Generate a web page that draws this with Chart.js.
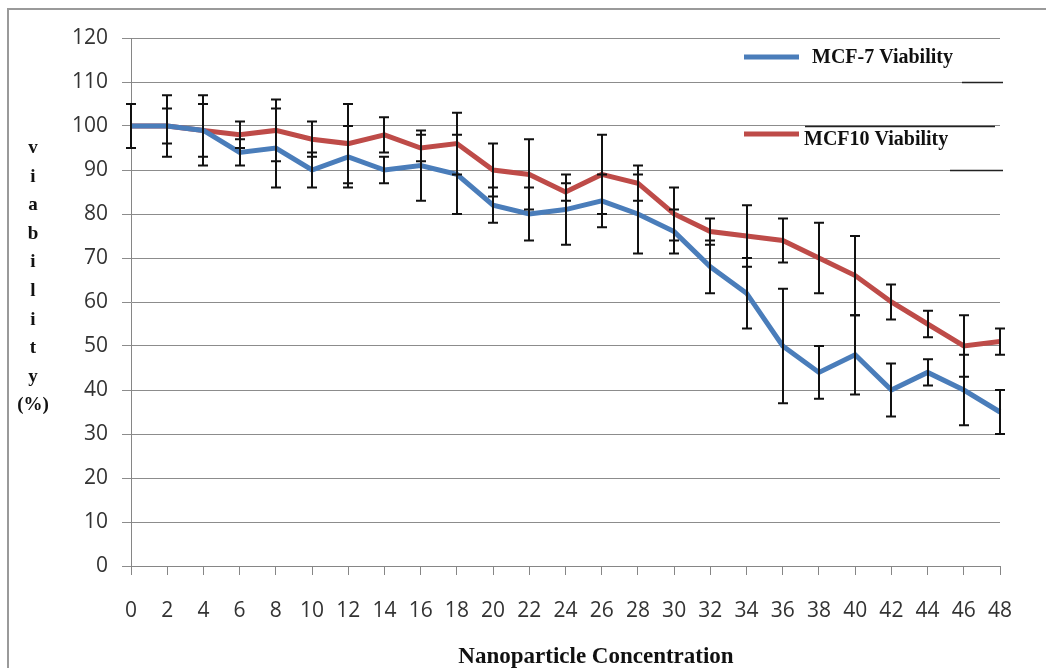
<!DOCTYPE html>
<html>
<head>
<meta charset="utf-8">
<script src="https://cdn.jsdelivr.net/npm/chart.js@4"></script>
<style>
  body { margin: 0; background: #fff; }
</style>
</head>
<body>
<canvas id="myChart" width="1046" height="668"></canvas>
<script>
// values
const concentrations = ['0', '2', '4', '6', '8', '10', '12', '14', '16', '18', '20', '22', '24',
    '26', '28', '30', '32', '34', '36', '38', '40', '42', '44', '46', '48'];
const mcf7Viability = [100, 100, 99, 94, 95, 90, 93, 90, 91, 89, 82, 80, 81,
    83, 80, 76, 68, 62, 50, 44, 48, 40, 44, 40, 35];
const mcf10Viability = [100, 100, 99, 98, 99, 97, 96, 98, 95, 96, 90, 89, 85,
    89, 87, 80, 76, 75, 74, 70, 66, 60, 55, 50, 51];
const mcf7Error = [5, 7, 8, 3, 9, 4, 7, 3, 8, 9, 4, 6, 8,
    6, 9, 5, 6, 8, 13, 6, 9, 6, 3, 8, 5];
const mcf10Error = [5, 4, 6, 3, 7, 4, 9, 4, 3, 7, 6, 8, 2,
    9, 4, 6, 3, 7, 5, 8, 9, 4, 3, 7, 3];
const yTitleLetters = ['v', 'i', 'a', 'b', 'i', 'l', 'i', 't', 'y', '(%)'];

const ctx = document.getElementById('myChart').getContext('2d');
const tickFont = { family: '"Open Sans", sans-serif', size: 21 };
const serifBold = (px) => 'bold ' + px + 'px "Liberation Serif", "Times New Roman", serif';

// white page with the grey frame on top and left
const framePlugin = {
    id: 'frame',
    beforeDraw(chart) {
        const c = chart.ctx;
        c.save();
        c.fillStyle = '#fff';
        c.fillRect(0, 0, chart.width, chart.height);
        c.strokeStyle = '#9a9a9a';
        c.lineWidth = 2;
        c.beginPath();
        c.moveTo(8, chart.height);
        c.lineTo(8, 9);
        c.lineTo(chart.width, 9);
        c.stroke();
        c.restore();
    }
};

// error bars, legend and axis titles drawn by hand
const extrasPlugin = {
    id: 'extras',
    afterDatasetsDraw(chart) {
        const c = chart.ctx;
        const xs = chart.scales.x, ys = chart.scales.y;
        c.save();
        c.strokeStyle = '#111';
        c.lineWidth = 2;
        const bars = [[mcf7Viability, mcf7Error], [mcf10Viability, mcf10Error]];
        bars.forEach(([vals, errs]) => {
            vals.forEach((v, i) => {
                const x = Math.round(xs.getPixelForValue(i));
                const top = ys.getPixelForValue(v + errs[i]);
                const bot = ys.getPixelForValue(v - errs[i]);
                c.beginPath();
                c.moveTo(x, top); c.lineTo(x, bot);
                c.moveTo(x - 5, top); c.lineTo(x + 5, top);
                c.moveTo(x - 5, bot); c.lineTo(x + 5, bot);
                c.stroke();
            });
        });

        // dark streaks over some gridlines near the legend
        c.strokeStyle = '#222';
        c.lineWidth = 1.5;
        [[110, 962, 1003], [100, 805, 995], [90, 950, 1003]].forEach(([v, a, b]) => {
            const y = Math.round(ys.getPixelForValue(v)) + 0.5;
            c.beginPath(); c.moveTo(a, y); c.lineTo(b, y); c.stroke();
        });

        // legend
        c.lineWidth = 5;
        c.strokeStyle = chart.data.datasets[0].borderColor;
        c.beginPath(); c.moveTo(744, 57); c.lineTo(799, 57); c.stroke();
        c.strokeStyle = chart.data.datasets[1].borderColor;
        c.beginPath(); c.moveTo(744, 134); c.lineTo(799, 134); c.stroke();
        c.fillStyle = '#111';
        c.font = serifBold(20);
        c.textBaseline = 'alphabetic';
        c.textAlign = 'left';
        c.fillText('MCF-7 Viability', 812, 63);
        c.fillText('MCF10 Viability', 804, 145);

        // y title, one letter per line
        c.font = serifBold(19);
        c.textAlign = 'center';
        c.textBaseline = 'middle';
        yTitleLetters.forEach((ch, i) => {
            c.fillText(ch, 33, 148 + i * 28.6);
        });

        // x title
        c.font = serifBold(23);
        c.fillText('Nanoparticle Concentration', 596, 657);
        c.restore();
    }
};

const chart = new Chart(ctx, {
    type: 'line',
    data: {
        labels: concentrations,
        datasets: [{
            label: 'MCF-7 Viability',
            data: mcf7Viability,
            borderColor: '#4a7dba',
            borderWidth: 5,
            pointRadius: 0,
            tension: 0,
            fill: false
        }, {
            label: 'MCF10 Viability',
            data: mcf10Viability,
            borderColor: '#be4b48',
            borderWidth: 5,
            pointRadius: 0,
            tension: 0,
            fill: false
        }]
    },
    options: {
        responsive: false,
        animation: false,
        layout: { padding: { left: 0, right: 46, top: 38, bottom: 0 } },
        plugins: {
            legend: { display: false },
            tooltip: { enabled: false }
        },
        scales: {
            x: {
                offset: false,
                afterFit: (s) => { s.height = 102; },
                grid: { drawOnChartArea: false, drawTicks: true, tickLength: 9, color: '#868686' },
                border: { color: '#868686' },
                ticks: { font: tickFont, color: '#333', padding: 23, maxRotation: 0, autoSkip: false }
            },
            y: {
                min: 0,
                max: 120,
                afterFit: (s) => { s.width = 131; },
                grid: { color: '#8c8c8c', tickLength: 9 },
                border: { color: '#868686' },
                ticks: { stepSize: 10, font: tickFont, color: '#333', padding: 14 }
            }
        }
    },
    plugins: [framePlugin, extrasPlugin]
});
</script>
</body>
</html>
